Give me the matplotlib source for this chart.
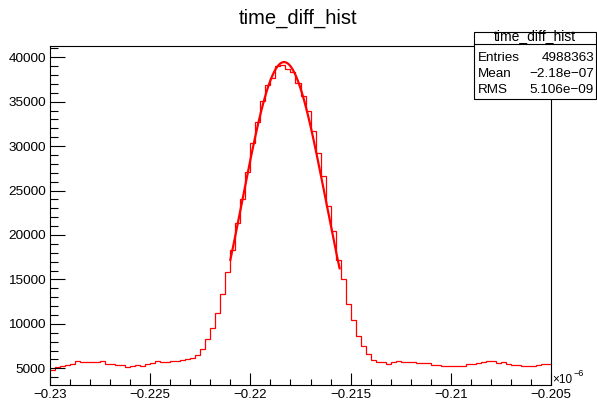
import numpy as np
import matplotlib
matplotlib.use("Agg")
import matplotlib.pyplot as plt
from matplotlib.ticker import MultipleLocator, FuncFormatter

plt.rcParams['font.family'] = ['Liberation Sans', 'DejaVu Sans']

# histogram: 100 bins between -0.23 and -0.205 (x 1e-6)
x_min, x_max, n_bins = -0.23, -0.205, 100
counts = [
    4850, 5200, 5300, 5350, 5470, 5780, 5740, 5730, 5730, 5760,
    5800, 5530, 5450, 5380, 5350, 5150, 5280, 5360, 5280, 5470,
    5600, 5800, 5700, 5700, 5860, 5800, 5950, 6050, 6150, 6450,
    7200, 8270, 9580, 11270, 13390, 15790, 18350, 21380, 24100, 27080,
    30310, 32710, 35070, 36840, 37690, 39010, 39090, 38700, 38300, 37130,
    35630, 33950, 31700, 29260, 26630, 23260, 20450, 17220, 15010, 12230,
    10430, 8630, 7540, 6610, 5930, 5710, 5710, 5450, 5680, 5790,
    5710, 5710, 5710, 5640, 5640, 5630, 5370, 5370, 5260, 5260,
    5260, 5300, 5300, 5450, 5530, 5560, 5670, 5790, 5790, 5600,
    5670, 5500, 5410, 5370, 5260, 5300, 5260, 5410, 5450, 5450,
]

# gaussian fit parameters
fit_const = 39450
fit_mean = -0.21832
fit_sigma = 0.00208
fit_lo, fit_hi = -0.2210, -0.21555

stats_title = "time_diff_hist"
stats_rows = [("Entries", "4988363"), ("Mean", "\u22122.18e\u221207"), ("RMS", "5.106e\u221209")]

W, H = 597, 403
fig = plt.figure(figsize=(W / 100, H / 100), dpi=100)
ax = fig.add_axes([50 / W, (H - 385) / H, 501 / W, 339 / H])

edges = np.linspace(x_min, x_max, n_bins + 1)
ax.stairs(counts, edges, baseline=None, color='#ff0000', lw=0.9)

xf = np.linspace(fit_lo, fit_hi, 300)
yf = fit_const * np.exp(-0.5 * ((xf - fit_mean) / fit_sigma) ** 2)
ax.plot(xf, yf, color='#ff0000', lw=1.6)

ax.set_xlim(x_min, x_max)
ax.set_ylim(3120, 41260)

ax.xaxis.set_major_locator(MultipleLocator(0.005))
ax.xaxis.set_minor_locator(MultipleLocator(0.001))
ax.yaxis.set_major_locator(MultipleLocator(5000))
ax.yaxis.set_minor_locator(MultipleLocator(1000))
ax.xaxis.set_major_formatter(FuncFormatter(lambda v, p: f"{v:g}".replace('-', '\u2212')))
ax.yaxis.set_major_formatter(FuncFormatter(lambda v, p: f"{v:.0f}"))

ax.tick_params(axis='y', which='major', direction='in', length=11, width=0.8, labelsize=9.7, pad=3)
ax.tick_params(axis='y', which='minor', direction='in', length=5.5, width=0.8)
ax.tick_params(axis='x', which='major', direction='in', length=8.5, width=0.8, labelsize=9.5, pad=3)
ax.tick_params(axis='x', which='minor', direction='in', length=4.3, width=0.8)
for s in ax.spines.values():
    s.set_linewidth(0.8)

fig.text(0.5, 1 - 18 / H, "time_diff_hist", ha='center', va='center', fontsize=14.5)

# x10^-6 exponent label
fig.text(552 / W, 1 - 380 / H, "\u00d710", ha='left', va='center', fontsize=8.5)
fig.text(573 / W, 1 - 374 / H, "\u22126", ha='left', va='center', fontsize=6.5)

# stats box
bx0, bx1, by0, by1, bsep = 474, 596, 32, 99, 44
box = plt.Rectangle((bx0 / W, 1 - by1 / H), (bx1 - bx0) / W, (by1 - by0) / H,
                    transform=fig.transFigure, facecolor='white', edgecolor='black', lw=0.8, zorder=5)
fig.add_artist(box)
fig.add_artist(plt.Line2D([bx0 / W, bx1 / W], [1 - bsep / H, 1 - bsep / H],
                          transform=fig.transFigure, color='black', lw=0.8, zorder=6))
fig.text((bx0 + bx1) / 2 / W, 1 - 40.3 / H, stats_title, ha='center', va='baseline', fontsize=10, zorder=7)
for i, (name, val) in enumerate(stats_rows):
    yy = 1 - (58 + 16 * i) / H
    fig.text((bx0 + 4) / W, yy, name, ha='left', va='center', fontsize=9.7, zorder=7)
    fig.text((bx1 - 2) / W, yy, val, ha='right', va='center', fontsize=9.7, zorder=7)

fig.savefig("out.png", dpi=100)
